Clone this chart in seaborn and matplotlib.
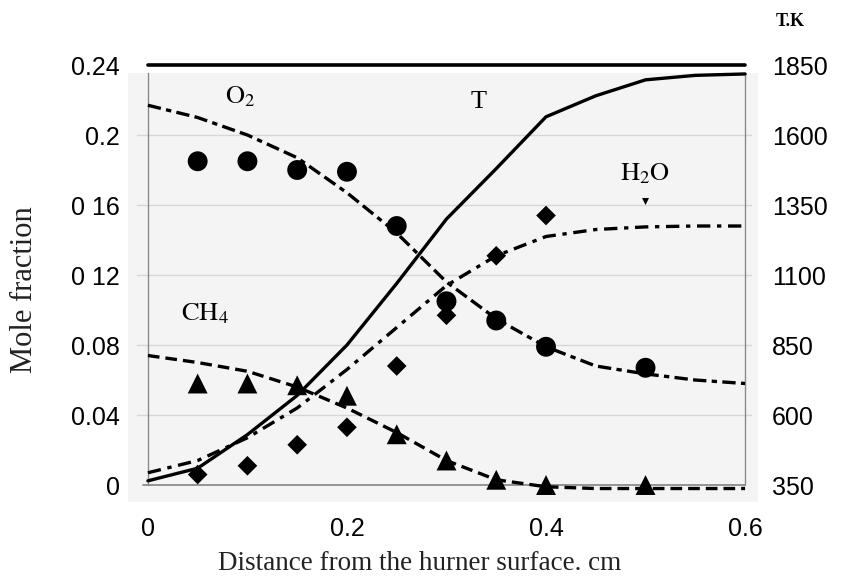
import matplotlib
matplotlib.use("Agg")
import matplotlib.pyplot as plt
import seaborn as sns
from matplotlib.patches import Rectangle

# Computed flame profiles (lines)
x_model = [0, 0.05, 0.1, 0.15, 0.2, 0.25, 0.3, 0.35, 0.4, 0.45, 0.5, 0.55, 0.6]
o2_model = [0.217, 0.210, 0.200, 0.187, 0.167, 0.144, 0.116, 0.095, 0.079, 0.068, 0.0635, 0.060, 0.058]
h2o_model = [0.007, 0.014, 0.027, 0.044, 0.066, 0.090, 0.114, 0.131, 0.142, 0.146, 0.1475, 0.148, 0.148]
ch4_model = [0.074, 0.070, 0.065, 0.056, 0.044, 0.030, 0.014, 0.003, -0.001, -0.002, -0.002, -0.002, -0.002]
t_model = [365, 410, 530, 670, 850, 1070, 1300, 1480, 1665, 1740, 1797, 1813, 1818]

# Measured mole fractions (markers)
x_o2 = [0.05, 0.1, 0.15, 0.2, 0.25, 0.3, 0.35, 0.4, 0.5]
o2_meas = [0.185, 0.185, 0.180, 0.179, 0.148, 0.105, 0.094, 0.079, 0.067]
x_ch4 = [0.05, 0.1, 0.15, 0.2, 0.25, 0.3, 0.35, 0.4, 0.5]
ch4_meas = [0.058, 0.058, 0.057, 0.051, 0.029, 0.014, 0.003, 0.0, 0.0]
x_h2o = [0.05, 0.1, 0.15, 0.2, 0.25, 0.3, 0.35, 0.4]
h2o_meas = [0.006, 0.011, 0.023, 0.033, 0.068, 0.097, 0.131, 0.154]
x_h2o_end = [0.5]
h2o_end = [0.162]

# Axis ticks and labels
x_ticks = [0, 0.2, 0.4, 0.6]
x_labels = ["0", "0.2", "0.4", "0.6"]
y_ticks = [0, 0.04, 0.08, 0.12, 0.16, 0.2, 0.24]
y_labels = ["0", "0.04", "0.08", "0 12", "0 16", "0.2", "0.24"]
t_ticks = [350, 600, 850, 1100, 1350, 1600, 1850]

sns.set_theme(style="white")
plt.rcParams["font.family"] = ["Liberation Sans", "DejaVu Sans"]
plt.rcParams["mathtext.fontset"] = "stix"

W, H = 842, 584
fig = plt.figure(figsize=(W / 100, H / 100), dpi=100)
fig.patch.set_facecolor("white")

ylo, yhi = -0.0097, 0.242
xlo, xhi = -0.02, 0.613
ax = fig.add_axes([128 / W, 1 - 502 / H, (758 - 128) / W, (502 - 61.5) / H])
ax.set_xlim(xlo, xhi)
ax.set_ylim(ylo, yhi)
ax.set_facecolor("white")
for s in ax.spines.values():
    s.set_visible(False)

# light plotting panel
ax.add_patch(Rectangle((xlo, ylo), xhi - xlo, 0.2354 - ylo, facecolor="#f4f4f4",
                       edgecolor="none", zorder=0))
for gy in [0.04, 0.08, 0.12, 0.16, 0.2]:
    ax.plot([-0.011, 0.606], [gy, gy], color="#d6d6d6", lw=1.0, zorder=1)
ax.plot([-0.005, 0.6], [0, 0], color="#8c8c8c", lw=1.3, zorder=1)
for gx in [0, 0.6]:
    ax.plot([gx, gx], [0, 0.2354], color="#8a8a8a", lw=1.0, zorder=1)
ax.plot([0, 0.6], [0.24, 0.24], color="black", lw=2.6, zorder=3, clip_on=False)

# model curves
sns.lineplot(x=x_model, y=o2_model, ax=ax, color="black", lw=2.4,
             linestyle=(0, (4, 1.6, 1.6, 1.6, 4, 1.6)), zorder=4)
sns.lineplot(x=x_model, y=h2o_model, ax=ax, color="black", lw=2.4,
             linestyle=(0, (4, 2, 1.3, 2)), zorder=4)
sns.lineplot(x=x_model, y=ch4_model, ax=ax, color="black", lw=2.4,
             linestyle=(0, (3.5, 1.8)), zorder=4)

# measurements
sns.scatterplot(x=x_o2, y=o2_meas, ax=ax, marker="o", s=205, color="black",
                edgecolor="none", zorder=5)
sns.scatterplot(x=x_ch4, y=ch4_meas, ax=ax, marker="^", s=205, color="black",
                edgecolor="none", zorder=5)
sns.scatterplot(x=x_h2o, y=h2o_meas, ax=ax, marker="D", s=100, color="black",
                edgecolor="none", zorder=5)
sns.scatterplot(x=x_h2o_end, y=h2o_end, ax=ax, marker="v", s=25, color="black",
                edgecolor="none", zorder=5)

ax.set_xticks(x_ticks, x_labels)
ax.set_yticks(y_ticks, y_labels)
ax.tick_params(axis="both", length=0, labelsize=18, colors="black")
ax.tick_params(axis="y", pad=6)
ax.tick_params(axis="x", pad=11)
ax.grid(False)

# temperature on the right axis
ax2 = ax.twinx()
ax2.set_ylim(350 + 6250 * ylo, 350 + 6250 * yhi)
for s in ax2.spines.values():
    s.set_visible(False)
sns.lineplot(x=x_model, y=t_model, ax=ax2, color="black", lw=2.4, zorder=4)
ax2.set_yticks(t_ticks, [str(t) for t in t_ticks])
ax2.tick_params(axis="y", length=0, labelsize=18, pad=10, colors="black")
ax2.grid(False)
ax2.set_ylabel("")

serif = ["Liberation Serif", "DejaVu Serif"]
lab_kw = dict(family=serif, fontsize=19, ha="center", va="center", color="black", zorder=6)
ax.text(0.0925, 0.2217, r"$\mathrm{O_2}$", **lab_kw)
ax.text(0.332, 0.219, "T", **lab_kw)
ax.text(0.4995, 0.178, r"$\mathrm{H_2O}$", **lab_kw)
ax.text(0.057, 0.098, r"$\mathrm{CH_4}$", **lab_kw)

fig.text(25 / W, 1 - 290 / H, "Mole fraction", family=serif, fontsize=22,
         rotation=90, ha="center", va="center", color="#222222")
fig.text(420 / W, 1 - 563 / H, "Distance from the hurner surface. cm", family=serif,
         fontsize=19.5, ha="center", va="center", color="#222222")
fig.text(790 / W, 1 - 22 / H, "T.K", family=serif, fontsize=13, fontweight="bold",
         ha="center", va="center", color="black")

fig.savefig("out.png", dpi=100)
